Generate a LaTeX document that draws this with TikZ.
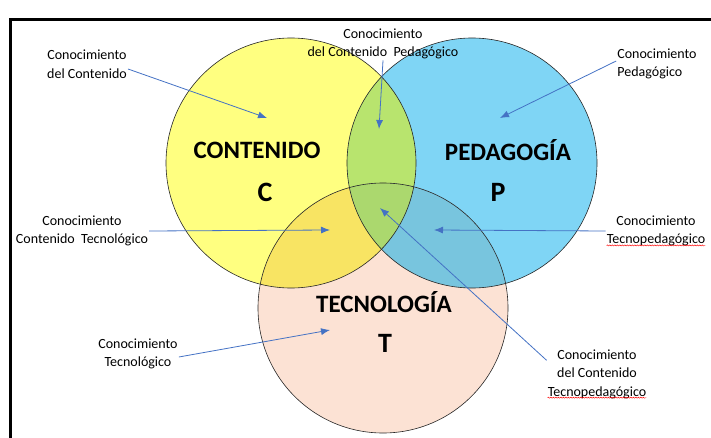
\documentclass[tikz,border=0pt]{standalone}
\usepackage{fontspec}
\setmainfont{Carlito}
\usetikzlibrary{arrows.meta,positioning,decorations.pathmorphing}
\definecolor{cyel}{HTML}{FFFF80}
\definecolor{cblu}{HTML}{7FD5F5}
\definecolor{cpnk}{HTML}{FCE2D4}
\definecolor{cgrn}{HTML}{B8E46E}
\definecolor{cdyel}{HTML}{F8E463}
\definecolor{cdblu}{HTML}{78C5DE}
\definecolor{cmid}{HTML}{ABD86E}
\definecolor{arrowblue}{HTML}{4472C4}

\begin{document}
\begin{tikzpicture}[
  x=1pt, y=1pt,
  every node/.style={font=\fontsize{14}{18.5}\selectfont},
  lbl/.style={align=center, inner sep=1pt},
  big/.style={font=\fontsize{25}{28}\selectfont\bfseries},
  letter/.style={font=\fontsize{28}{30}\selectfont\bfseries},
  ring/.style={draw=black!85, line width=0.6pt},
  ptr/.style={-{Latex[length=9pt,width=7pt]}, draw=arrowblue, line width=0.8pt},
  typo/.style={draw=red, line width=0.4pt, decorate,
    decoration={snake, amplitude=0.6pt, segment length=2.5pt}}
]
\useasboundingbox (0,0) rectangle (711,-438);
\clip (0,0) rectangle (711,-438);

% frame
\draw[line width=3pt] (10,-450) -- (10,-19.5) -- (730,-19.5);

% circle centres
\coordinate (cC) at (291,-163);
\coordinate (cP) at (472,-163);
\coordinate (cT) at (383,-308);

\fill[cyel] (cC) circle[radius=125pt];
\fill[cblu] (cP) circle[radius=125pt];
\fill[cpnk] (cT) circle[radius=125pt];
\begin{scope}
  \clip (cC) circle[radius=125pt];
  \fill[cgrn] (cP) circle[radius=125pt];
  \fill[cdyel] (cT) circle[radius=125pt];
\end{scope}
\begin{scope}
  \clip (cP) circle[radius=125pt];
  \fill[cdblu] (cT) circle[radius=125pt];
  \clip (cC) circle[radius=125pt];
  \fill[cmid] (cT) circle[radius=125pt];
\end{scope}
\draw[ring] (cC) circle[radius=125pt];
\draw[ring] (cP) circle[radius=125pt];
\draw[ring] (cT) circle[radius=125pt];

% set names
\node[big] (nC) at (257,-150) {CONTENIDO};
\node[letter] (lC) at (265,-192) {C};
\node[big] (nP) at (508,-150) {PEDAGOGÍA};
\node[letter] (lP) at (498,-192) {P};
\node[big] (nT) at (384,-302) {TECNOLOGÍA};
\node[letter] (lT) at (385,-343) {T};

% knowledge labels
\node[lbl] (kc) at (87,-64) {Conocimiento\\del Contenido};
\node[lbl] (kcp) at (383,-44) {Conocimiento\\del Contenido\ \ Pedagógico};
\node[lbl, align=left] (kp) at (657,-64) {Conocimiento\\Pedagógico};
\node[lbl] (kct) at (82,-231) {Conocimiento\\Contenido\ \ Tecnológico};
\node[lbl] (ktp) at (656,-231) {Conocimiento\\Tecnopedagógico};
\node[lbl] (kt) at (138,-354) {Conocimiento\\Tecnológico};
\node[lbl] (kctp) at (597,-374) {Conocimiento\\del Contenido\\Tecnopedagógico};

\draw[typo] ([xshift=1pt,yshift=2pt]ktp.south west) -- ([xshift=-1pt,yshift=2pt]ktp.south east);
\draw[typo] ([xshift=1pt,yshift=2pt]kctp.south west) -- ([xshift=-1pt,yshift=2pt]kctp.south east);

% arrow tips
\coordinate (tC) at (267,-118);
\coordinate (tCP) at (379,-129);
\coordinate (tP) at (500,-118);
\coordinate (tCT) at (330,-230);
\coordinate (tPT) at (434,-230);
\coordinate (tT) at (330,-330);
\coordinate (tCPT) at (380,-208);

\draw[ptr] ([yshift=-5pt]kc.east) -- (tC);
\draw[ptr] (kcp.south) -- (tCP);
\draw[ptr] ([yshift=3pt]kp.west) -- (tP);
\draw[ptr] (kct.east) -- (tCT);
\draw[ptr] (ktp.west) -- (tPT);
\draw[ptr] ([yshift=-3pt]kt.east) -- (tT);
\draw[ptr] ([yshift=-12pt]kctp.north west) -- (tCPT);

\end{tikzpicture}
\end{document}
